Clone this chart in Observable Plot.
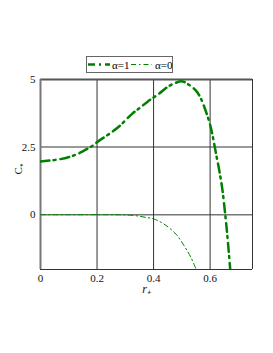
<!DOCTYPE html>
<html><head><meta charset="utf-8">
<script src="https://cdn.jsdelivr.net/npm/d3@7"></script>
<script src="https://cdn.jsdelivr.net/npm/@observablehq/plot@0.6"></script>
<style>
body{margin:0;background:#fff;width:273px;height:353px;overflow:hidden;font-family:"Liberation Serif",serif;}
#legend{position:absolute;left:86px;top:56px;z-index:2;}
#chart{position:absolute;left:0;top:65px;z-index:1;}
</style></head><body>
<div id="chart"></div>
<div id="legend"></div>
<script>
const seriesNames = ["α=1", "α=0"];
const r1 = [0, 0.068, 0.121, 0.151, 0.187, 0.205, 0.252, 0.282, 0.324, 0.354, 0.38, 0.419, 0.449, 0.479, 0.502, 0.52, 0.55, 0.568, 0.586, 0.601, 0.611, 0.621, 0.632, 0.643, 0.654, 0.661, 0.671];
const c1 = [1.97, 2.05, 2.2, 2.35, 2.57, 2.72, 3.05, 3.30, 3.73, 3.97, 4.19, 4.47, 4.72, 4.88, 4.93, 4.84, 4.59, 4.28, 3.79, 3.29, 2.81, 2.25, 1.66, 0.96, -0.04, -0.78, -2.0];
const r0 = [0, 0.1, 0.2, 0.28, 0.33, 0.371, 0.401, 0.437, 0.479, 0.508, 0.532, 0.55];
const c0 = [0, 0, 0, -0.005, -0.03, -0.10, -0.16, -0.35, -0.72, -1.15, -1.58, -2.01];
const xTicks = [0, 0.2, 0.4, 0.6];
const yTicks = [0, 2.5, 5];

const d1 = r1.map((r, i) => ({r, c: c1[i]}));
const d0 = r0.map((r, i) => ({r, c: c0[i]}));
const green = "#008000";
const xDom = [0, 0.75], yDom = [-2.03, 5];
const dash1 = "9,4,2,5", dash0 = "5,3,1.5,3";

const plot = Plot.plot({
  width: 273, height: 288,
  marginLeft: 40, marginRight: 21, marginTop: 14, marginBottom: 84,
  style: {fontFamily: "'Liberation Serif', serif", fontSize: "11px", color: "#111", background: "transparent"},
  x: {domain: xDom, label: null},
  y: {domain: yDom, label: null},
  marks: [
    Plot.ruleY([2.5], {stroke: "#777", strokeWidth: 1.5}),
    Plot.ruleY([0], {stroke: "#777", strokeWidth: 1.5}),
    Plot.ruleX([0.2, 0.4, 0.6], {stroke: "#333", strokeWidth: 1}),
    Plot.ruleX([xDom[1]], {stroke: "#333", strokeWidth: 1}),
    Plot.ruleY([yDom[0]], {stroke: "#333", strokeWidth: 1}),
    Plot.ruleY([yDom[1]], {stroke: "#555", strokeWidth: 2}),
    Plot.ruleX([xDom[0]], {stroke: "#777", strokeWidth: 2}),
    Plot.line(d0, {x: "r", y: "c", stroke: green, strokeWidth: 1, strokeDasharray: dash0, curve: "catmull-rom", clip: true}),
    Plot.line(d1, {x: "r", y: "c", stroke: green, strokeWidth: 2.5, strokeDasharray: dash1, curve: "catmull-rom", clip: true}),
    Plot.axisX({ticks: xTicks, tickSize: 0, tickPadding: 5, tickFormat: d => d === 0 ? "0" : d3.format(".1f")(d), label: null}),
    Plot.axisY({ticks: yTicks, tickSize: 0, tickPadding: 5, tickFormat: d => String(d), label: null}),
    Plot.text(["C₊"], {frameAnchor: "left", dx: -22, rotate: -90, fontSize: 11}),
    Plot.text(["r₊"], {frameAnchor: "bottom", dy: 23, fontSize: 12, fontStyle: "italic"})
  ]
});
document.getElementById("chart").appendChild(plot);

// legend
const lg = d3.select("#legend").append("svg").attr("width", 87).attr("height", 17);
lg.append("rect").attr("x", 0.5).attr("y", 0.5).attr("width", 86).attr("height", 16).attr("fill", "#fff").attr("stroke", "#666");
lg.append("line").attr("x1", 2).attr("x2", 24).attr("y1", 8.5).attr("y2", 8.5).attr("stroke", green).attr("stroke-width", 2.5).attr("stroke-dasharray", "7,4,2,4");
lg.append("text").attr("x", 26).attr("y", 12.5).attr("font-size", 11).attr("font-family", "'Liberation Serif', serif").text(seriesNames[0]);
lg.append("line").attr("x1", 45).attr("x2", 66).attr("y1", 8.5).attr("y2", 8.5).attr("stroke", green).attr("stroke-width", 1).attr("stroke-dasharray", dash0);
lg.append("text").attr("x", 69).attr("y", 12.5).attr("font-size", 11).attr("font-family", "'Liberation Serif', serif").text(seriesNames[1]);
</script>
</body></html>
